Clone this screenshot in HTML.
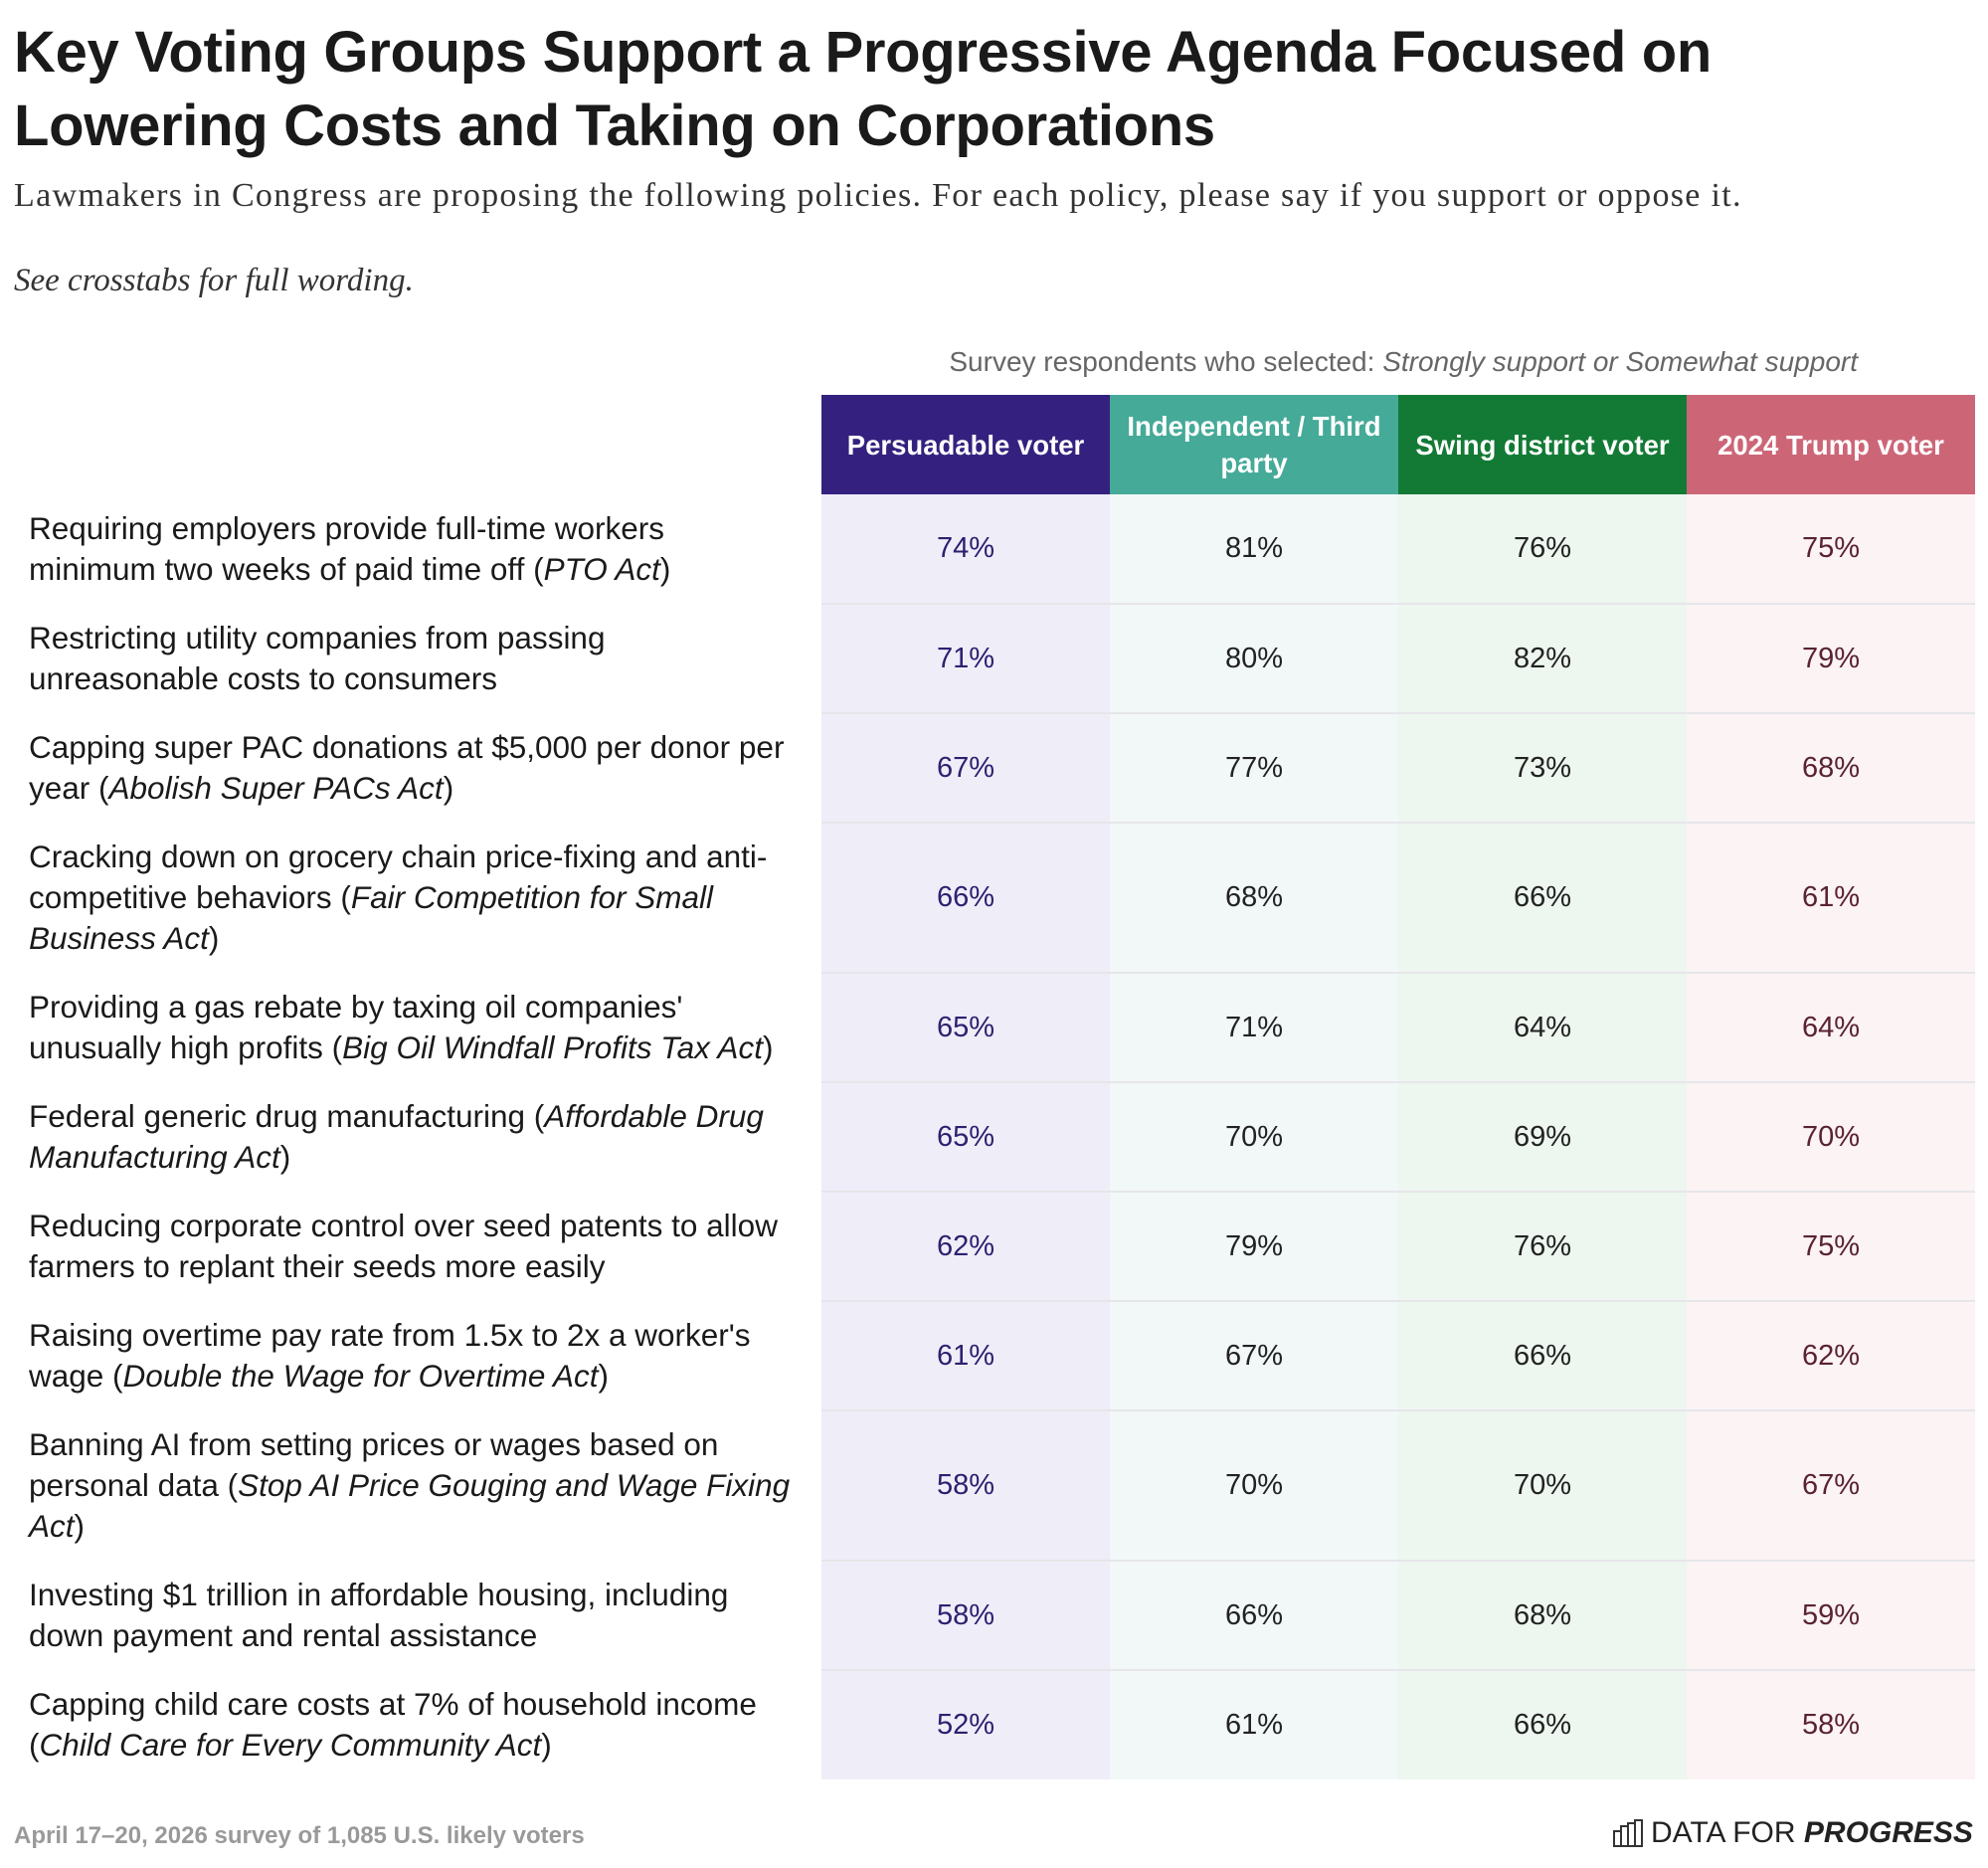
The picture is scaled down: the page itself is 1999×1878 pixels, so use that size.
<!DOCTYPE html>
<html><head><meta charset="utf-8">
<style>
*{margin:0;padding:0;box-sizing:border-box}
body{width:1999px;height:1878px;background:#fff;position:relative;font-family:"Liberation Sans",sans-serif;color:#1a1a1a;overflow:hidden}
.abs{position:absolute}
#title{left:14px;top:16px;font-size:58px;font-weight:bold;line-height:74px;letter-spacing:-0.3px;width:1950px;white-space:nowrap}
#sub{left:14px;top:178px;font-family:"Liberation Serif",serif;font-size:34px;letter-spacing:1.3px;color:#333;white-space:nowrap}
#note{left:14px;top:264px;font-family:"Liberation Serif",serif;font-style:italic;font-size:33px;color:#333}
#svy{right:131px;top:348px;font-size:28px;color:#666;white-space:nowrap}
#tbl{left:29px;top:397px;border-collapse:collapse}
#tbl th{height:100px;color:#fff;font-size:27.5px;font-weight:bold;line-height:37px;width:290px;text-align:center;padding:0 8px}
#tbl td.lab{width:797px;font-size:31.5px;line-height:41px;padding:14px 0;white-space:nowrap;vertical-align:middle}
#tbl td.v{text-align:center;font-size:29px;vertical-align:middle;border-top:2px solid #e6e6ea}
#tbl tr.r1 td.v{border-top:none}
#foot{left:14px;top:1832px;font-size:24px;font-weight:bold;color:#999;white-space:nowrap}
#logo{left:1622px;top:1826px;font-size:30px;color:#222;display:flex;align-items:center;gap:8px;white-space:nowrap}
</style></head><body>
<div id="title" class="abs">Key Voting Groups Support a Progressive Agenda Focused on<br>Lowering Costs and Taking on Corporations</div>
<div id="sub" class="abs">Lawmakers in Congress are proposing the following policies. For each policy, please say if you support or oppose it.</div>
<div id="note" class="abs">See crosstabs for full wording.</div>
<div id="svy" class="abs">Survey respondents who selected: <i>Strongly support or Somewhat support</i></div>
<table id="tbl" class="abs"><thead><tr id="hdr"><th style="background:none;width:797px"></th></tr></thead><tbody id="body"></tbody></table>
<div id="foot" class="abs">April 17–20, 2026 survey of 1,085 U.S. likely voters</div>
<div id="logo" class="abs"><svg width="30" height="28" viewBox="0 0 30 28"><g fill="none" stroke="#333" stroke-width="2"><rect x="1" y="12" width="7" height="15"/><rect x="8" y="7" width="7" height="20"/><rect x="15" y="4" width="7" height="23"/><rect x="22" y="1" width="7" height="26"/></g></svg><span>DATA FOR <b><i>PROGRESS</i></b></span></div>
<script>
const groups=["Persuadable voter","Independent / Third party","Swing district voter","2024 Trump voter"];
const policies=[
"Requiring employers provide full-time workers<br>minimum two weeks of paid time off (<i>PTO Act</i>)",
"Restricting utility companies from passing<br>unreasonable costs to consumers",
"Capping super PAC donations at $5,000 per donor per<br>year (<i>Abolish Super PACs Act</i>)",
"Cracking down on grocery chain price-fixing and anti-<br>competitive behaviors (<i>Fair Competition for Small<br>Business Act</i>)",
"Providing a gas rebate by taxing oil companies'<br>unusually high profits (<i>Big Oil Windfall Profits Tax Act</i>)",
"Federal generic drug manufacturing (<i>Affordable Drug<br>Manufacturing Act</i>)",
"Reducing corporate control over seed patents to allow<br>farmers to replant their seeds more easily",
"Raising overtime pay rate from 1.5x to 2x a worker's<br>wage (<i>Double the Wage for Overtime Act</i>)",
"Banning AI from setting prices or wages based on<br>personal data (<i>Stop AI Price Gouging and Wage Fixing<br>Act</i>)",
"Investing $1 trillion in affordable housing, including<br>down payment and rental assistance",
"Capping child care costs at 7% of household income<br>(<i>Child Care for Every Community Act</i>)"];
const persuadable=[74,71,67,66,65,65,62,61,58,58,52];
const independent=[81,80,77,68,71,70,79,67,70,66,61];
const swing=[76,82,73,66,64,69,76,66,70,68,66];
const trump=[75,79,68,61,64,70,75,62,67,59,58];
const series=[persuadable,independent,swing,trump];
const hdrBg=["#34217f","#45aa98","#137a35","#cc6677"];
const cellBg=["#efedf8","#f2f8f8","#edf6ef","#fbf3f4"];
const txt=["#2e2070","#222","#222","#5a2232"];
const hdr=document.getElementById('hdr');
groups.forEach((g,i)=>{const th=document.createElement('th');


th.style.background=hdrBg[i];th.textContent=g;hdr.appendChild(th);});
const body=document.getElementById('body');
policies.forEach((p,r)=>{const tr=document.createElement('tr');tr.className='r'+(r+1);


const l=document.createElement('td');l.className='lab';l.innerHTML=p;


tr.appendChild(l);
series.forEach((s,i)=>{const td=document.createElement('td');td.className='v';


td.style.background=cellBg[i];td.style.color=txt[i];td.textContent=s[r]+'%';tr.appendChild(td);});
body.appendChild(tr);});
</script>
</body></html>
